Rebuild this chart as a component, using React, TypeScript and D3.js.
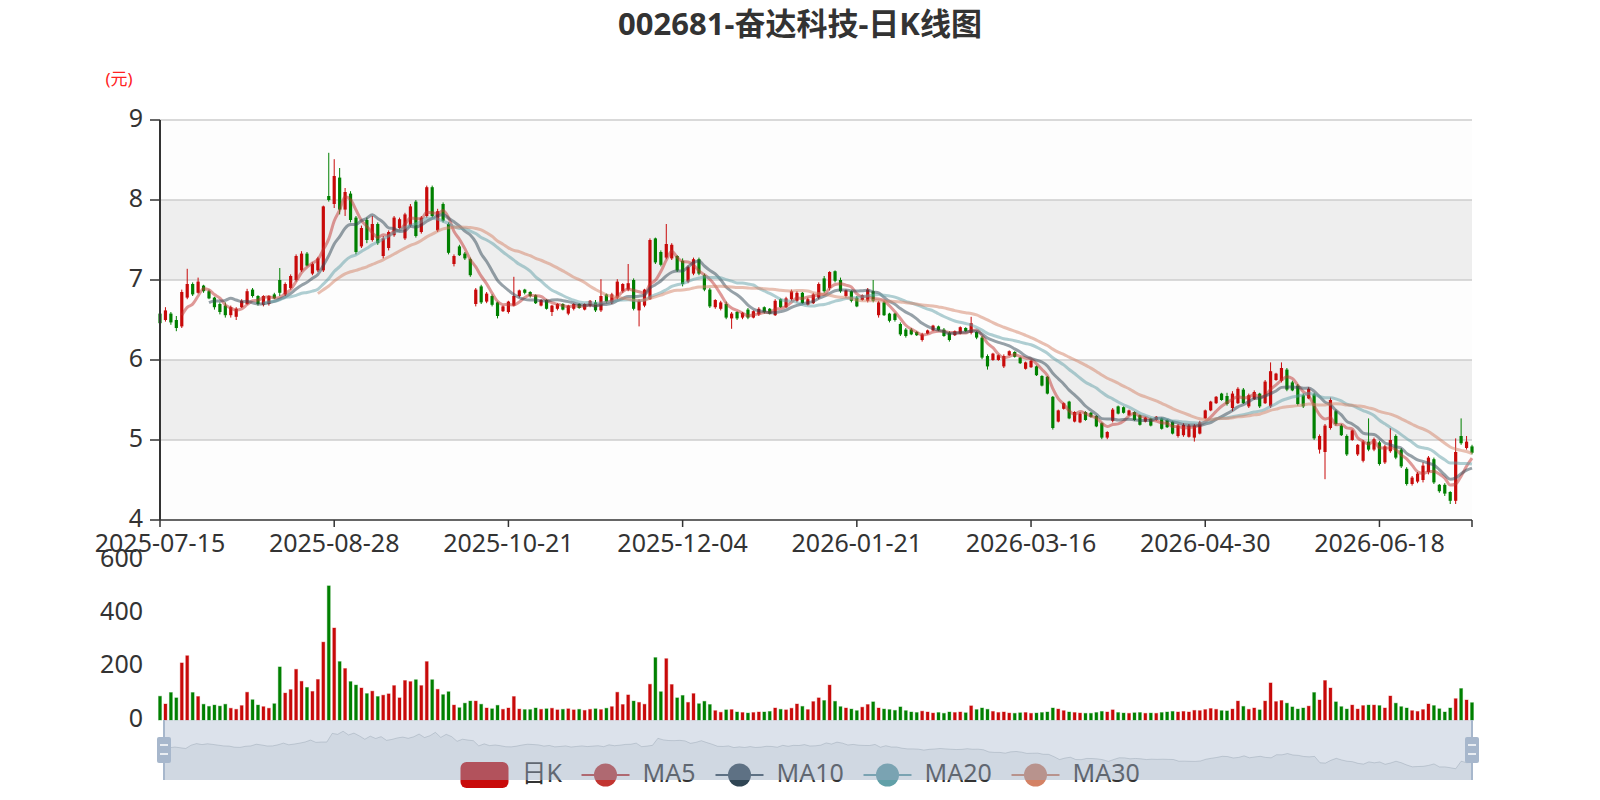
import React from "react";
import * as d3 from "d3";

const width = 1600;
const height = 800;

// trading calendar (SSE closed days inside the range)
const holidays = [
  "2025-10-01", "2025-10-02", "2025-10-03", "2025-10-06", "2025-10-07", "2025-10-08",
  "2026-01-01", "2026-01-02",
  "2026-02-16", "2026-02-17", "2026-02-18", "2026-02-19", "2026-02-20", "2026-02-23",
  "2026-04-06", "2026-05-01", "2026-05-04", "2026-05-05", "2026-06-19",
];
const fmt = d3.utcFormat("%Y-%m-%d");
const dates = d3
  .utcDays(new Date(Date.UTC(2025, 6, 15)), new Date(Date.UTC(2026, 6, 15)))
  .filter((d) => d.getUTCDay() % 6 !== 0)
  .map(fmt)
  .filter((s) => !holidays.includes(s));

// [open, close, low, high]
const candles: number[][] = [
  [6.58, 6.46, 6.40, 6.62], [6.50, 6.62, 6.48, 6.66], [6.58, 6.47, 6.44, 6.60], [6.50, 6.40, 6.36, 6.55],
  [6.42, 6.85, 6.40, 6.88], [6.78, 6.95, 6.76, 7.14], [6.95, 6.82, 6.80, 6.97], [6.84, 6.98, 6.83, 7.03],
  [6.93, 6.86, 6.84, 6.94], [6.86, 6.77, 6.76, 6.88], [6.78, 6.66, 6.63, 6.79], [6.70, 6.60, 6.57, 6.72],
  [6.68, 6.56, 6.53, 6.72], [6.56, 6.66, 6.53, 6.68], [6.54, 6.64, 6.50, 6.66], [6.66, 6.74, 6.65, 6.76],
  [6.70, 6.86, 6.69, 6.89], [6.88, 6.80, 6.78, 6.90], [6.80, 6.70, 6.68, 6.81], [6.69, 6.80, 6.67, 6.81],
  [6.70, 6.80, 6.68, 6.81], [6.82, 6.77, 6.76, 6.84], [7.00, 6.84, 6.80, 7.15], [6.82, 6.95, 6.80, 6.97],
  [6.90, 7.05, 6.88, 7.07], [7.00, 7.30, 6.98, 7.32], [7.12, 7.33, 7.10, 7.36], [7.33, 7.18, 7.17, 7.35],
  [7.08, 7.20, 7.06, 7.22], [7.12, 7.27, 7.10, 7.29], [7.12, 7.92, 7.10, 7.93], [8.05, 8.00, 7.98, 8.59],
  [7.95, 8.30, 7.90, 8.51], [8.28, 7.88, 7.82, 8.40], [7.88, 8.10, 7.80, 8.15], [8.08, 7.75, 7.72, 8.11],
  [7.78, 7.35, 7.32, 7.80], [7.42, 7.65, 7.40, 7.68], [7.75, 7.50, 7.46, 7.78], [7.50, 7.70, 7.48, 7.80],
  [7.70, 7.46, 7.44, 7.72], [7.30, 7.52, 7.27, 7.55], [7.40, 7.60, 7.37, 7.62], [7.56, 7.78, 7.54, 7.80],
  [7.65, 7.76, 7.63, 7.78], [7.52, 7.82, 7.50, 7.84], [7.68, 7.92, 7.66, 7.95], [7.98, 7.55, 7.53, 8.00],
  [7.60, 7.78, 7.58, 7.80], [7.80, 8.16, 7.78, 8.18], [8.16, 7.80, 7.78, 8.18], [7.62, 7.86, 7.60, 7.89],
  [7.95, 7.74, 7.72, 7.97], [7.70, 7.34, 7.32, 7.72], [7.20, 7.30, 7.17, 7.32], [7.42, 7.31, 7.30, 7.44],
  [7.33, 7.27, 7.25, 7.35], [7.26, 7.06, 7.04, 7.28], [6.70, 6.88, 6.67, 6.90], [6.92, 6.72, 6.70, 6.94],
  [6.73, 6.83, 6.71, 6.85], [6.80, 6.69, 6.67, 6.82], [6.72, 6.55, 6.52, 6.73], [6.61, 6.67, 6.60, 6.68],
  [6.60, 6.73, 6.58, 6.74], [6.68, 6.80, 6.67, 7.04], [6.80, 6.87, 6.78, 6.88], [6.88, 6.84, 6.82, 6.89],
  [6.85, 6.80, 6.78, 6.86], [6.81, 6.71, 6.70, 6.82], [6.68, 6.75, 6.67, 6.76], [6.75, 6.64, 6.63, 6.76],
  [6.60, 6.68, 6.55, 6.69], [6.64, 6.70, 6.62, 6.71], [6.70, 6.63, 6.62, 6.71], [6.58, 6.68, 6.56, 6.69],
  [6.64, 6.70, 6.62, 6.71], [6.70, 6.65, 6.64, 6.71], [6.63, 6.70, 6.62, 6.71], [6.68, 6.74, 6.66, 6.75],
  [6.72, 6.62, 6.60, 6.75], [6.62, 6.80, 6.60, 7.01], [6.82, 6.73, 6.71, 6.83], [6.72, 6.82, 6.70, 6.84],
  [6.78, 6.98, 6.76, 7.01], [6.86, 6.95, 6.84, 6.96], [6.88, 6.96, 6.86, 7.20], [7.00, 6.64, 6.62, 7.02],
  [6.62, 6.74, 6.42, 6.76], [6.68, 6.88, 6.66, 6.89], [6.76, 7.50, 6.75, 7.52], [7.52, 7.22, 7.20, 7.53],
  [7.35, 7.19, 7.17, 7.37], [7.28, 7.45, 7.26, 7.70], [7.27, 7.44, 7.25, 7.46], [7.30, 7.12, 7.10, 7.31],
  [7.24, 6.95, 6.92, 7.27], [6.98, 7.16, 6.96, 7.18], [7.08, 7.26, 7.06, 7.28], [7.26, 7.08, 7.06, 7.28],
  [7.06, 6.88, 6.86, 7.08], [6.88, 6.67, 6.65, 6.90], [6.66, 6.75, 6.64, 6.76], [6.64, 6.72, 6.62, 6.74],
  [6.70, 6.53, 6.51, 6.73], [6.52, 6.58, 6.39, 6.60], [6.60, 6.52, 6.50, 6.61], [6.53, 6.59, 6.51, 6.60],
  [6.63, 6.53, 6.51, 6.65], [6.53, 6.61, 6.52, 6.62], [6.57, 6.64, 6.55, 6.66], [6.66, 6.60, 6.58, 6.67],
  [6.64, 6.58, 6.57, 6.65], [6.56, 6.74, 6.55, 6.76], [6.76, 6.66, 6.65, 6.77], [6.66, 6.77, 6.65, 6.79],
  [6.76, 6.86, 6.74, 6.88], [6.74, 6.84, 6.72, 6.86], [6.84, 6.71, 6.70, 6.85], [6.69, 6.76, 6.68, 6.78],
  [6.71, 6.82, 6.70, 6.84], [6.78, 6.95, 6.76, 6.97], [7.02, 6.86, 6.84, 7.05], [6.90, 7.10, 6.87, 7.11],
  [7.11, 6.99, 6.97, 7.12], [7.00, 6.86, 6.84, 7.03], [6.80, 6.87, 6.78, 6.88], [6.86, 6.74, 6.72, 6.87],
  [6.78, 6.67, 6.66, 6.80], [6.75, 6.81, 6.74, 6.82], [6.74, 6.88, 6.72, 6.90], [6.86, 6.74, 6.72, 7.00],
  [6.56, 6.72, 6.53, 6.74], [6.72, 6.56, 6.55, 6.74], [6.58, 6.49, 6.47, 6.59], [6.58, 6.50, 6.48, 6.59],
  [6.45, 6.32, 6.30, 6.47], [6.38, 6.30, 6.28, 6.40], [6.38, 6.32, 6.31, 6.40], [6.35, 6.31, 6.30, 6.36],
  [6.25, 6.32, 6.23, 6.34], [6.33, 6.37, 6.32, 6.38], [6.37, 6.43, 6.36, 6.44], [6.42, 6.37, 6.36, 6.43],
  [6.38, 6.30, 6.29, 6.40], [6.34, 6.25, 6.23, 6.36], [6.31, 6.36, 6.30, 6.37], [6.33, 6.41, 6.32, 6.42],
  [6.40, 6.36, 6.35, 6.41], [6.34, 6.46, 6.32, 6.54], [6.35, 6.28, 6.26, 6.36], [6.28, 6.03, 6.01, 6.30],
  [6.05, 5.92, 5.88, 6.07], [6.00, 6.08, 5.99, 6.09], [6.00, 6.06, 5.99, 6.07], [5.92, 6.05, 5.90, 6.07],
  [6.06, 6.11, 6.05, 6.12], [6.10, 6.04, 6.03, 6.11], [6.03, 5.96, 5.95, 6.04], [5.89, 5.97, 5.88, 5.98],
  [5.91, 5.99, 5.90, 6.00], [5.92, 5.81, 5.80, 5.93], [5.80, 5.68, 5.67, 5.81], [5.79, 5.58, 5.57, 5.80],
  [5.54, 5.15, 5.13, 5.55], [5.23, 5.37, 5.22, 5.38], [5.39, 5.46, 5.38, 5.47], [5.48, 5.27, 5.26, 5.49],
  [5.23, 5.35, 5.22, 5.36], [5.22, 5.33, 5.21, 5.35], [5.35, 5.25, 5.24, 5.36], [5.34, 5.29, 5.28, 5.35],
  [5.30, 5.17, 5.16, 5.31], [5.21, 5.03, 5.01, 5.22], [5.03, 5.10, 5.01, 5.11], [5.24, 5.38, 5.22, 5.40],
  [5.42, 5.33, 5.32, 5.43], [5.41, 5.34, 5.33, 5.42], [5.31, 5.37, 5.30, 5.38], [5.35, 5.25, 5.24, 5.36],
  [5.31, 5.19, 5.18, 5.32], [5.23, 5.28, 5.22, 5.29], [5.27, 5.18, 5.17, 5.28], [5.25, 5.29, 5.24, 5.30],
  [5.27, 5.14, 5.13, 5.28], [5.25, 5.16, 5.15, 5.26], [5.23, 5.08, 5.07, 5.24], [5.05, 5.18, 5.03, 5.20],
  [5.06, 5.19, 5.04, 5.21], [5.04, 5.18, 5.03, 5.20], [5.03, 5.18, 4.98, 5.20], [5.08, 5.22, 5.07, 5.24],
  [5.27, 5.37, 5.26, 5.38], [5.37, 5.48, 5.36, 5.49], [5.46, 5.54, 5.45, 5.55], [5.58, 5.50, 5.49, 5.59],
  [5.55, 5.45, 5.43, 5.59], [5.40, 5.58, 5.36, 5.61], [5.46, 5.64, 5.45, 5.66], [5.63, 5.46, 5.45, 5.65],
  [5.42, 5.56, 5.40, 5.58], [5.51, 5.60, 5.50, 5.62], [5.58, 5.42, 5.40, 5.59], [5.46, 5.73, 5.45, 5.75],
  [5.42, 5.86, 5.40, 5.97], [5.75, 5.83, 5.74, 5.84], [5.74, 5.90, 5.72, 5.97], [5.88, 5.63, 5.61, 5.90],
  [5.72, 5.62, 5.61, 5.74], [5.68, 5.45, 5.43, 5.70], [5.56, 5.42, 5.40, 5.58], [5.52, 5.64, 5.51, 5.66],
  [5.57, 5.02, 5.00, 5.59], [4.88, 5.05, 4.83, 5.07], [4.85, 5.18, 4.51, 5.20], [5.15, 5.50, 5.13, 5.53],
  [5.36, 5.20, 5.18, 5.38], [5.18, 5.06, 5.05, 5.20], [5.05, 4.82, 4.80, 5.07], [5.00, 5.12, 4.99, 5.13],
  [4.82, 4.94, 4.80, 4.95], [4.74, 4.98, 4.72, 5.00], [4.98, 4.88, 4.86, 5.27], [4.88, 5.01, 4.86, 5.03],
  [4.97, 4.70, 4.68, 4.99], [4.72, 4.92, 4.70, 4.94], [4.86, 5.00, 4.84, 5.15], [5.05, 4.78, 4.76, 5.07],
  [4.88, 4.67, 4.65, 4.90], [4.64, 4.45, 4.43, 4.66], [4.45, 4.53, 4.43, 4.55], [4.48, 4.58, 4.46, 4.60],
  [4.50, 4.68, 4.47, 4.72], [4.60, 4.78, 4.57, 4.80], [4.76, 4.47, 4.45, 4.78], [4.44, 4.36, 4.34, 4.45],
  [4.44, 4.33, 4.30, 4.46], [4.35, 4.24, 4.20, 4.36], [4.24, 4.85, 4.20, 5.02], [5.05, 4.96, 4.94, 5.27],
  [4.90, 4.98, 4.88, 5.05], [4.92, 4.84, 4.82, 4.94],
];

const volumes = [
  89, 60, 103, 83, 214, 241, 103, 88, 59, 51, 56, 52, 59, 44, 40, 54, 104, 76, 56, 50,
  44, 61, 199, 101, 114, 190, 145, 122, 107, 152, 292, 503, 345, 219, 193, 144, 131, 120, 99, 108,
  88, 93, 98, 129, 83, 148, 144, 151, 129, 219, 151, 115, 95, 106, 56, 46, 63, 71, 71, 59,
  45, 42, 55, 40, 45, 88, 41, 39, 39, 45, 40, 42, 44, 38, 40, 42, 38, 40, 36, 40,
  42, 39, 44, 50, 104, 58, 94, 71, 66, 59, 134, 234, 106, 230, 133, 83, 92, 66, 99, 61,
  70, 58, 35, 29, 38, 39, 30, 28, 26, 28, 30, 30, 32, 45, 40, 38, 44, 60, 51, 39,
  69, 83, 73, 131, 70, 50, 45, 41, 35, 48, 58, 68, 45, 41, 39, 36, 49, 35, 30, 28,
  33, 30, 26, 28, 25, 30, 28, 30, 27, 53, 39, 45, 40, 32, 28, 30, 26, 25, 27, 28,
  25, 26, 28, 30, 45, 41, 35, 30, 28, 26, 25, 25, 28, 32, 30, 38, 28, 26, 25, 27,
  28, 25, 26, 25, 28, 30, 32, 30, 32, 30, 36, 35, 39, 43, 40, 35, 34, 41, 71, 51,
  40, 45, 38, 71, 139, 69, 73, 63, 49, 41, 45, 52, 103, 75, 148, 120, 68, 50, 41, 56,
  41, 54, 56, 56, 54, 45, 90, 63, 50, 45, 35, 32, 39, 60, 54, 42, 30, 45, 80, 118,
  75, 65,
];

const maDays = [5, 10, 20, 30];
const maNames = ["MA5", "MA10", "MA20", "MA30"];
const maColors = ["#c23531", "#2f4554", "#61a0a8", "#d48265"];
const priceTicks = [4, 5, 6, 7, 8, 9];
const volumeTicks = [0, 200, 400, 600];
const labelEvery = 32;

const upColor = "#c80a0a";
const downColor = "#008000";
const font = '"Noto Sans", "Noto Sans CJK SC", sans-serif';

const left = 160;
const right = 1472;
const priceTop = 120;
const priceBottom = 520;
const volTop = 560;
const volBottom = 720;
const zoomTop = 720;
const zoomBottom = 780;
const zoomLeft = 164;
const zoomRight = 1472;

const cats = dates.slice(0, candles.length);
const closes = candles.map((d) => d[1]);

const calcMA = (n: number) =>
  closes.map((_, i) => (i < n - 1 ? null : d3.mean(closes.slice(i - n + 1, i + 1)) as number));

const App = () => {
  const x = d3.scalePoint<string>().domain(cats).range([left, right]).padding(0);
  const y = d3.scaleLinear().domain([4, 9]).range([priceBottom, priceTop]);
  const yv = d3.scaleLinear().domain([0, 600]).range([volBottom, volTop]);

  const maLine = d3
    .line<number | null>()
    .defined((d) => d != null)
    .x((_, i) => x(cats[i]) as number)
    .y((d) => y(d as number))
    .curve(d3.curveMonotoneX);

  // slider data shadow
  const opens = candles.map((d) => d[0]);
  const [omin, omax] = d3.extent(opens) as [number, number];
  const off = (omax - omin) * 0.3;
  const xs = d3.scaleLinear().domain([0, cats.length - 1]).range([zoomLeft, zoomRight]);
  const ys = d3.scaleLinear().domain([omin - off, omax + off]).range([zoomBottom, zoomTop]);
  const shadowArea = d3
    .area<number>()
    .x((_, i) => xs(i))
    .y0(zoomBottom)
    .y1((d) => ys(d));
  const shadowLine = d3
    .line<number>()
    .x((_, i) => xs(i))
    .y((d) => ys(d));

  const bandStep = x.step();
  const bodyW = 3.2;
  const volW = bandStep * 0.72;

  const legendItems = [
    { name: "日K", textW: 40 },
    ...maNames.map((n) => ({ name: n, textW: n.length === 3 ? 53 : 67 })),
  ];
  const iconW = 48;
  const textGap = 13;
  const itemGap = 20;
  const legendTotal =
    d3.sum(legendItems, (d) => iconW + textGap + d.textW) + itemGap * (legendItems.length - 1);
  let lx = width / 2 - legendTotal / 2;
  const legendPos = legendItems.map((d) => {
    const p = lx;
    lx += iconW + textGap + d.textW + itemGap;
    return p;
  });
  const legendY = 775;

  const bands = priceTicks.slice(0, -1);

  return (
    <div style={{ position: "absolute", left: 0, top: 0 }}>
      <svg width={width} height={height} style={{ display: "block", fontFamily: font }}>
        <rect width={width} height={height} fill="#fff" />
        <text x={800} y={35} textAnchor="middle" fontSize={31} fontWeight="bold" fill="#333">
          002681-奋达科技-日K线图
        </text>
        <text x={119} y={80} textAnchor="middle" dominantBaseline="middle" fontSize={17} fill="#f22">
          (元)
        </text>

        {/* split areas */}
        {bands.map((t, i) => (
          <rect
            key={t}
            x={left}
            y={y(t + 1)}
            width={right - left}
            height={y(t) - y(t + 1)}
            fill={i % 2 === 0 ? "rgba(250,250,250,0.3)" : "rgba(200,200,200,0.3)"}
          />
        ))}
        {priceTicks.slice(1).map((t) => (
          <line key={t} x1={left} x2={right} y1={y(t)} y2={y(t)} stroke="#ccc" strokeWidth={1.5} />
        ))}

        {/* candles */}
        {candles.map((d, i) => {
          const [o, c, l, h] = d;
          const cx = x(cats[i]) as number;
          const col = c >= o ? upColor : downColor;
          const top = y(Math.max(o, c));
          const bh = Math.max(1, y(Math.min(o, c)) - top);
          return (
            <g key={i}>
              <line x1={cx} x2={cx} y1={y(h)} y2={y(l)} stroke={col} strokeWidth={1} />
              <rect x={cx - bodyW / 2} y={top} width={bodyW} height={bh} fill={col} />
            </g>
          );
        })}

        {/* moving averages */}
        {maDays.map((n, k) => (
          <path
            key={n}
            d={maLine(calcMA(n)) || ""}
            fill="none"
            stroke={maColors[k]}
            strokeOpacity={0.5}
            strokeWidth={3}
          />
        ))}

        {/* price axes */}
        <line x1={left} x2={left} y1={priceTop} y2={priceBottom} stroke="#333" strokeWidth={2} />
        <line x1={left} x2={right} y1={priceBottom} y2={priceBottom} stroke="#333" strokeWidth={1.5} />
        {priceTicks.map((t) => (
          <g key={t}>
            <line x1={left - 10} x2={left} y1={y(t)} y2={y(t)} stroke="#333" strokeWidth={1.5} />
            <text x={left - 17} y={y(t)} textAnchor="end" dominantBaseline="middle" fontSize={25} fill="#333">
              {t}
            </text>
          </g>
        ))}
        {cats.map((c, i) =>
          i % labelEvery === 0 || i === cats.length - 1 ? (
            <line key={c} x1={x(c)} x2={x(c)} y1={priceBottom} y2={priceBottom + 7} stroke="#333" strokeWidth={1.5} />
          ) : null
        )}
        {cats.map((c, i) =>
          i % labelEvery === 0 ? (
            <text key={c} x={x(c)} y={545} textAnchor="middle" dominantBaseline="middle" fontSize={25} fill="#333">
              {c}
            </text>
          ) : null
        )}

        {/* volume */}
        {volumes.map((v, i) => {
          const d = candles[i];
          const col = d[1] >= d[0] ? upColor : downColor;
          const cx = x(cats[i]) as number;
          return (
            <rect
              key={i}
              x={cx - volW / 2 + 0.5}
              y={yv(v)}
              width={volW - 1}
              height={yv(0) - yv(v)}
              fill={col}
              stroke={col}
              strokeOpacity={0.35}
              strokeWidth={1}
            />
          );
        })}
        {volumeTicks.map((t) => (
          <text key={t} x={left - 17} y={yv(t)} textAnchor="end" dominantBaseline="middle" fontSize={25} fill="#333">
            {t}
          </text>
        ))}

        {/* legend */}
        {legendItems.map((d, k) => {
          const px = legendPos[k];
          return (
            <g key={d.name}>
              {k === 0 ? (
                <rect x={px} y={legendY - 13} width={iconW} height={26} rx={6} fill={upColor} />
              ) : (
                <g>
                  <line x1={px} x2={px + iconW} y1={legendY} y2={legendY} stroke={maColors[k - 1]} strokeWidth={2} />
                  <circle cx={px + iconW / 2} cy={legendY} r={11.5} fill={maColors[k - 1]} />
                </g>
              )}
              <text
                x={px + iconW + textGap}
                y={legendY}
                dominantBaseline="middle"
                fontSize={25}
                fill="#333"
              >
                {d.name}
              </text>
            </g>
          );
        })}

        {/* data zoom slider */}
        <path d={shadowArea(opens) || ""} fill="rgba(47,69,84,0.09)" />
        <path d={shadowLine(opens) || ""} fill="none" stroke="rgba(47,69,84,0.3)" strokeWidth={0.8} />
        <rect
          x={zoomLeft}
          y={zoomTop}
          width={zoomRight - zoomLeft}
          height={zoomBottom - zoomTop}
          fill="rgba(167,183,204,0.4)"
        />
        {[zoomLeft, zoomRight].map((hx) => (
          <g key={hx}>
            <line x1={hx} x2={hx} y1={zoomTop} y2={zoomBottom} stroke="#a7b7cc" strokeWidth={2} />
            <rect x={hx - 7} y={737} width={14} height={26} rx={2} fill="#a7b7cc" />
            <line x1={hx - 4} x2={hx + 4} y1={745} y2={745} stroke="#fff" strokeWidth={1.5} />
            <line x1={hx - 4} x2={hx + 4} y1={754} y2={754} stroke="#fff" strokeWidth={1.5} />
          </g>
        ))}
      </svg>
    </div>
  );
};

export default App;
